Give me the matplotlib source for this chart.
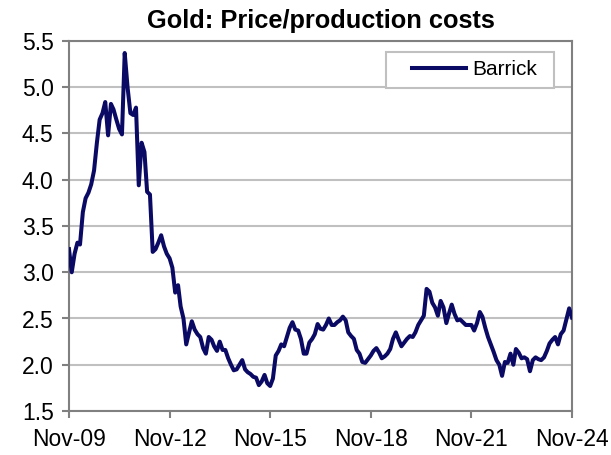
import matplotlib
matplotlib.use('Agg')
import matplotlib.pyplot as plt
import matplotlib.dates as mdates
from matplotlib.patches import Rectangle
import pandas as pd

# monthly Barrick gold price / production cost ratio, Nov-09 .. Nov-24
barrick = [
    3.25, 3.00, 3.20, 3.32, 3.30, 3.65, 3.80, 3.86, 3.95, 4.10,
    4.40, 4.65, 4.72, 4.84, 4.48, 4.82, 4.76, 4.65, 4.55, 4.49,
    5.37, 5.00, 4.72, 4.70, 4.78, 3.94, 4.40, 4.30, 3.87, 3.84,
    3.22, 3.25, 3.32, 3.40, 3.28, 3.20, 3.15, 3.05, 2.78, 2.86,
    2.63, 2.50, 2.22, 2.35, 2.47, 2.38, 2.33, 2.30, 2.18, 2.12,
    2.30, 2.27, 2.20, 2.15, 2.25, 2.16, 2.16, 2.07, 2.00, 1.94,
    1.95, 2.00, 2.05, 1.95, 1.92, 1.90, 1.87, 1.86, 1.78, 1.82,
    1.89, 1.80, 1.77, 1.85, 2.10, 2.15, 2.22, 2.20, 2.30, 2.40,
    2.46, 2.38, 2.37, 2.28, 2.12, 2.12, 2.24, 2.28, 2.33, 2.44,
    2.39, 2.38, 2.43, 2.50, 2.43, 2.43, 2.46, 2.48, 2.52, 2.48,
    2.35, 2.31, 2.28, 2.16, 2.12, 2.03, 2.02, 2.06, 2.10, 2.15,
    2.18, 2.13, 2.07, 2.09, 2.12, 2.17, 2.28, 2.35, 2.27, 2.20,
    2.24, 2.28, 2.31, 2.30, 2.35, 2.43, 2.48, 2.53, 2.82, 2.79,
    2.67, 2.62, 2.53, 2.69, 2.62, 2.45, 2.55, 2.65, 2.55, 2.48,
    2.49, 2.46, 2.43, 2.43, 2.43, 2.37, 2.45, 2.57, 2.52, 2.40,
    2.30, 2.22, 2.14, 2.05, 2.00, 1.88, 2.03, 2.02, 2.12, 2.00,
    2.17, 2.13, 2.07, 2.08, 2.06, 1.93, 2.05, 2.08, 2.06, 2.05,
    2.08, 2.15, 2.23, 2.27, 2.30, 2.22, 2.33, 2.37, 2.49, 2.61,
    2.51,
]
dates = pd.date_range('2009-11-01', periods=len(barrick), freq='MS')
tick_dates = pd.date_range('2009-11-01', '2024-11-01', freq='36MS')
yticks = [1.5, 2.0, 2.5, 3.0, 3.5, 4.0, 4.5, 5.0, 5.5]

plt.rcParams['font.family'] = ['Liberation Sans', 'DejaVu Sans']

fig = plt.figure(figsize=(6.11, 4.55), dpi=100)
ax = fig.add_axes([0.1129, 0.0967, 0.8233, 0.8132])

ax.plot(dates, barrick, color='#0a0a64', lw=2.9, label='Barrick', zorder=3)

ax.set_xlim(dates[0], dates[-1])
ax.set_ylim(1.5, 5.5)
ax.set_yticks(yticks)
ax.set_yticklabels([f'{v:.1f}' for v in yticks])
ax.set_xticks(tick_dates)
ax.xaxis.set_major_formatter(mdates.DateFormatter('%b-%y'))

ax.grid(axis='y', color='#c0c0c0', lw=1.5)
ax.set_axisbelow(True)
for s in ax.spines.values():
    s.set_color('#808080')
    s.set_linewidth(1.5)
ax.tick_params(axis='both', colors='#808080', labelcolor='black',
               labelsize=16.5, length=5, width=1.5)
ax.tick_params(axis='x', pad=7)
ax.tick_params(axis='y', pad=6)

ax.set_title('Gold: Price/production costs', fontsize=18.3, fontweight='bold', pad=9)

# legend box drawn separately, legend itself frameless
ax.add_patch(Rectangle((0.630, 0.873), 0.334, 0.097, transform=ax.transAxes,
                       facecolor='white', edgecolor='#c0c0c0', lw=1.5, zorder=4))
leg = ax.legend(loc='center left', bbox_to_anchor=(0.682, 0.922), fontsize=15,
                frameon=False, handlelength=2.6, borderpad=0, borderaxespad=0,
                handletextpad=0.3)
leg.set_zorder(5)

plt.savefig('out.png', dpi=100)
